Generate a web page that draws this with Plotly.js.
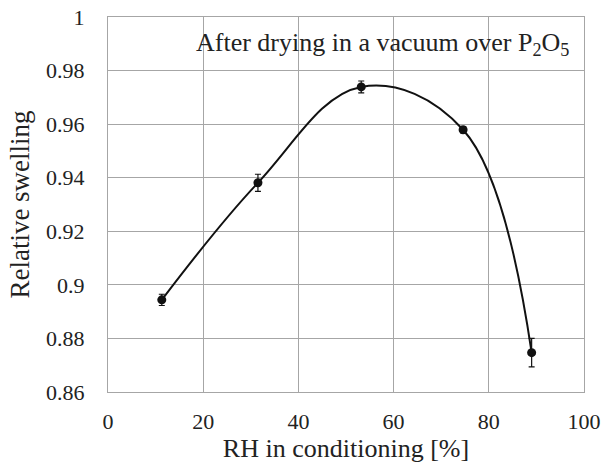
<!DOCTYPE html>
<html>
<head>
<meta charset="utf-8">
<script src="https://cdn.plot.ly/plotly-3.0.1.min.js"></script>
<style>html,body{margin:0;padding:0;background:#fff;}#chart{width:611px;height:467px;}</style>
</head>
<body>
<div id="chart"></div>
<script>
const rh = [11.3, 31.5, 53.2, 74.6, 89.0];
const swelling = [0.8944, 0.9381, 0.9739, 0.9579, 0.8747];
const errors = [0.0021, 0.0032, 0.0022, 0.0012, 0.0053];
const xTicks = [0, 20, 40, 60, 80, 100];
const yTicks = [0.86, 0.88, 0.9, 0.92, 0.94, 0.96, 0.98, 1];
const yTickText = ['0.86', '0.88', '0.9', '0.92', '0.94', '0.96', '0.98', '1'];

const font = 'Times New Roman, Liberation Serif, serif';

const traces = [
  {
    x: rh, y: swelling, mode: 'lines', type: 'scatter',
    line: {shape: 'spline', smoothing: 1.1, color: '#111', width: 2},
    hoverinfo: 'skip', showlegend: false
  },
  {
    x: rh, y: swelling, mode: 'markers', type: 'scatter',
    marker: {color: '#111', size: 9},
    error_y: {type: 'data', array: errors, visible: true, color: '#111', thickness: 1.2, width: 3},
    showlegend: false
  }
];

const layout = {
  width: 611, height: 467,
  margin: {l: 108, r: 27, t: 17, b: 75},
  paper_bgcolor: '#fff', plot_bgcolor: '#fff',
  font: {family: font, color: '#222', size: 22},
  xaxis: {
    range: [0, 100], tickvals: xTicks, ticktext: xTicks.map(String),
    showgrid: true, gridcolor: '#a6a6a6', gridwidth: 1,
    zeroline: false, showline: true, linecolor: '#a6a6a6', linewidth: 1, mirror: true,
    ticks: '', ticklabelstandoff: 10,
    tickfont: {family: font, size: 22, color: '#222'},
    title: {text: 'RH in conditioning [%]', font: {family: font, size: 26, color: '#222'}, standoff: 4}
  },
  yaxis: {
    range: [0.86, 1], tickvals: yTicks, ticktext: yTickText,
    showgrid: true, gridcolor: '#a6a6a6', gridwidth: 1,
    zeroline: false, showline: true, linecolor: '#a6a6a6', linewidth: 1, mirror: true,
    ticks: '', ticklabelstandoff: 18,
    tickfont: {family: font, size: 22, color: '#222'},
    title: {text: 'Relative swelling', font: {family: font, size: 27, color: '#222'}, standoff: 8}
  },
  annotations: [{
    xref: 'paper', yref: 'paper', x: 0.972, y: 0.928, xanchor: 'right', yanchor: 'middle',
    text: 'After drying in a vacuum over P<sub>2</sub>O<sub>5</sub>', showarrow: false,
    font: {family: font, size: 26, color: '#222'}
  }]
};

Plotly.newPlot('chart', traces, layout, {displayModeBar: false, staticPlot: true});
</script>
</body>
</html>
